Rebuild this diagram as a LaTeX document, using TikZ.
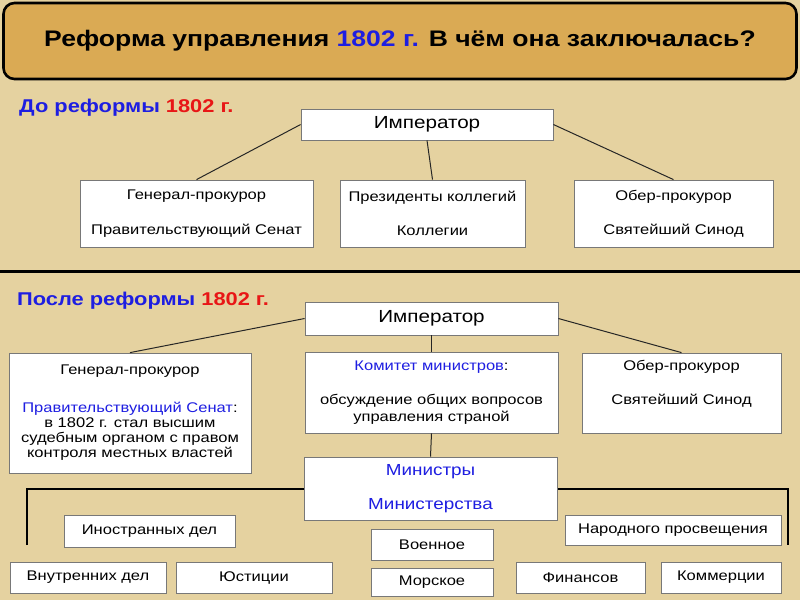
\documentclass[tikz,border=0pt]{standalone}
\usepackage{fontspec}
\setmainfont[FakeStretch=1.18]{Liberation Sans}
\definecolor{bgbeige}{RGB}{229,210,160}
\definecolor{titlegold}{RGB}{218,170,84}
\definecolor{tblue}{RGB}{30,30,225}
\definecolor{tred}{RGB}{232,22,22}
\definecolor{boxgray}{RGB}{120,120,120}
\tikzset{
  bx/.style 2 args={minimum width=#1pt, minimum height=#2pt},
  box/.style={draw=boxgray, fill=white, line width=0.8pt, inner sep=0pt, align=center,
    font=\fontsize{14}{15.3}\selectfont},
  empbox/.style={box, font=\fontsize{17.5}{19}\selectfont},
  minbox/.style={box, font=\fontsize{16}{18}\selectfont, text=tblue},
  link/.style={line width=1pt, draw=black!85},
  secl/.style={anchor=west, inner sep=0pt, font=\fontsize{18.5}{20}\bfseries\selectfont, text=tblue},
}
\begin{document}
\begin{tikzpicture}[x=1pt,y=-1pt]
\useasboundingbox (0,0) rectangle (800,600);
\fill[bgbeige] (0,0) rectangle (800,600);

% title
\node[draw=black, line width=2.6pt, fill=titlegold, rounded corners=11pt, bx={793}{76},
  font=\fontsize{22.5}{26}\bfseries\selectfont] (title) at (400,41)
  {Реформа управления \textcolor{tblue}{1802 г.} В чём она заключалась?};

% separator
\coordinate (sepL) at (0,271);
\coordinate (sepR) at (800,271);
\draw[line width=3pt] (sepL) -- (sepR);

% section labels
\node[secl] (lab1) at (19,108) {До реформы \textcolor{tred}{1802 г.}};
\node[secl] (lab2) at (17,301) {После реформы \textcolor{tred}{1802 г.}};

% before reform
\node[empbox, bx={252}{31}] (imp1) at (427,124.5) {Император};
\node[box, bx={233}{67}] (gp1) at (196.5,213.5) {Генерал-прокурор\\[19pt]Правительствующий Сенат};
\node[box, bx={185}{67}] (pk1) at (432.5,213.5) {Президенты коллегий\\[19pt]Коллегии};
\node[box, bx={199}{67}] (op1) at (673.5,213.5) {Обер-прокурор\\[19pt]Святейший Синод};
\draw[link] (imp1.west) -- (gp1.north);
\draw[link] (imp1.south) -- (pk1.north);
\draw[link] (imp1.east) -- (op1.north);

% after reform
\node[empbox, bx={253}{33}] (imp2) at (431.5,318.5) {Император};
\node[box, bx={242}{120}] (gp2) at (130,413) {Генерал-прокурор\\[22pt]\textcolor{tblue}{Правительствующий Сенат}:\\в 1802 г. стал высшим\\судебным органом с правом\\контроля местных властей};
\node[box, bx={253}{81}] (km2) at (431.5,392.5) {\textcolor{tblue}{Комитет министров}:\\[19pt]обсуждение общих вопросов\\[1.5pt]управления страной};
\node[box, bx={199}{80}] (op2) at (681.5,393) {Обер-прокурор\\[19pt]Святейший Синод\\[6pt]};
\draw[link] (imp2.west) -- (gp2.north);
\draw[link] (imp2.south) -- (km2.north);
\draw[link] (imp2.east) -- (op2.north);

\coordinate (bl) at (27,545);
\coordinate (br) at (788,545);
\draw[line width=2pt] (bl) |- (430,488.5) -| (br);

\node[minbox, bx={253}{63}] (min) at (430.5,488.5) {Министры\\[16pt]Министерства};
\draw[link] (km2.south) -- (min.north);

% ministries
\node[box, bx={171}{32}] (ino) at (149.5,531) {Иностранных дел};
\node[box, bx={216}{30}] (nar) at (673,530) {Народного просвещения};
\node[box, bx={122}{31}] (voe) at (432,544.5) {Военное};
\node[box, bx={122}{28}] (mor) at (432,582) {Морское};
\node[box, bx={156}{31}] (vnu) at (88,577.5) {Внутренних дел};
\node[box, bx={156}{31}] (yus) at (254,577.5) {Юстиции};
\node[box, bx={129}{31}] (fin) at (580.5,577.5) {Финансов};
\node[box, bx={120}{31}] (kom) at (721,577.5) {Коммерции};
\end{tikzpicture}
\end{document}
